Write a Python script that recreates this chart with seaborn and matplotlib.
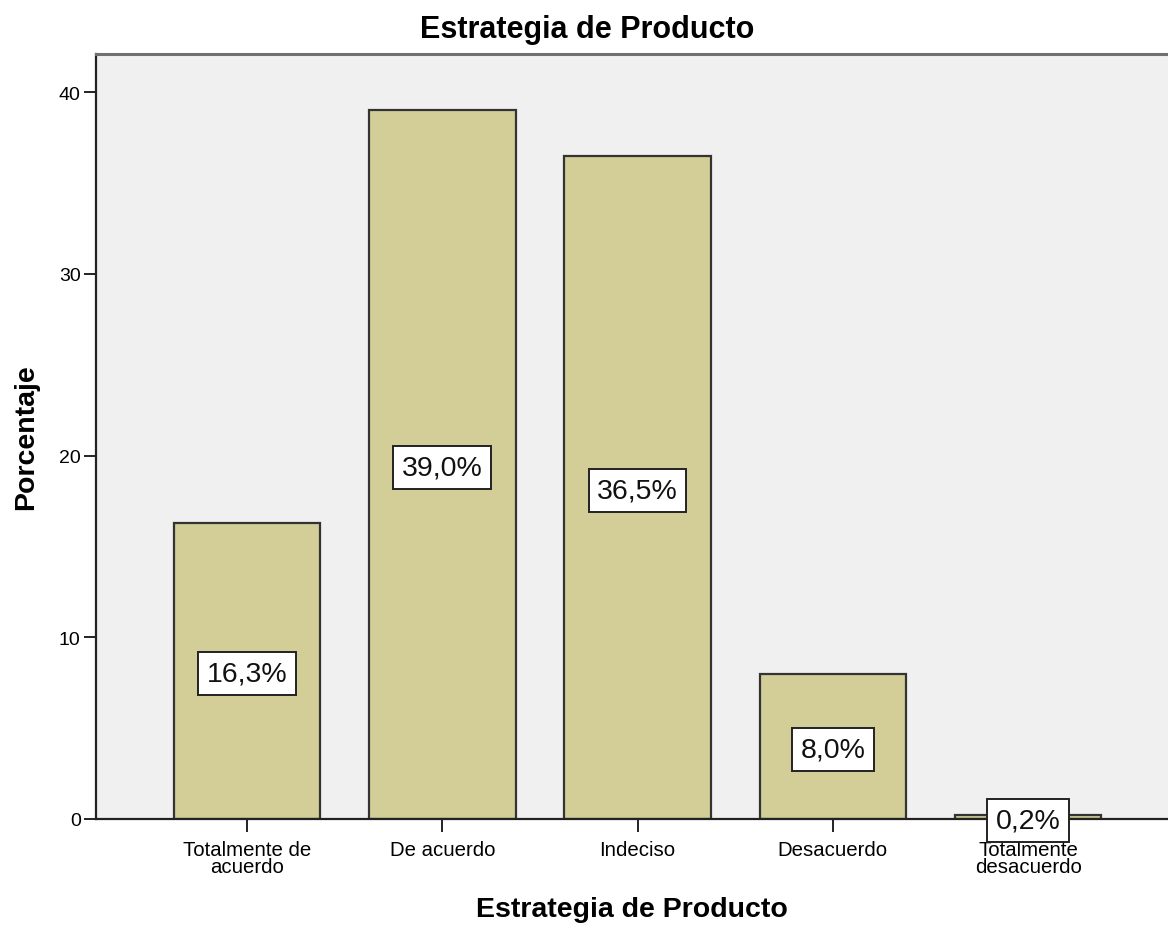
import matplotlib
matplotlib.use("Agg")
import matplotlib.pyplot as plt
import seaborn as sns
import pandas as pd

# Survey responses: share of answers per category
categories = ["Totalmente de\nacuerdo", "De acuerdo", "Indeciso", "Desacuerdo", "Totalmente\ndesacuerdo"]
percentages = [16.3, 39.0, 36.5, 8.0, 0.2]
value_labels = ["16,3%", "39,0%", "36,5%", "8,0%", "0,2%"]

sns.set_theme(style="white")
plt.rcParams["font.family"] = ["Liberation Sans", "DejaVu Sans"]
plt.rcParams["text.color"] = "black"
plt.rcParams["axes.labelcolor"] = "black"
plt.rcParams["xtick.color"] = "black"
plt.rcParams["ytick.color"] = "black"

df = pd.DataFrame({"categoria": categories, "porcentaje": percentages})

fig = plt.figure(figsize=(11.68, 9.29), dpi=100)
ax = fig.add_axes([96 / 1168, 1 - 820 / 929, 1 - 96 / 1168, (820 - 55) / 929])
ax.set_facecolor("#F0F0F0")

sns.barplot(data=df, x="categoria", y="porcentaje", color="#D3CE97", saturation=1,
            width=0.75, edgecolor="#333333", linewidth=1.6, ax=ax, zorder=2)

# Value boxes centred at half the bar height
for i, (v, lab) in enumerate(zip(percentages, value_labels)):
    ax.text(i, v / 2, lab, ha="center", va="center_baseline", fontsize=20.5, color="#111111", zorder=5,
            bbox=dict(boxstyle="square,pad=0.3", facecolor="white", edgecolor="#222222", linewidth=1.4))

ax.set_xlim(-0.773, 4.716)
ax.set_ylim(0, 42.1)
ax.set_yticks([0, 10, 20, 30, 40])
ax.tick_params(axis="y", labelsize=14, length=9, width=1.4, color="#222222", left=True, pad=2)
ax.tick_params(axis="x", labelsize=14.7, length=9, width=1.4, color="#222222", bottom=True, pad=6)
for t in ax.get_xticklabels():
    t.set_linespacing(0.85)

for side in ["left", "bottom"]:
    ax.spines[side].set_color("#222222")
    ax.spines[side].set_linewidth(1.6)
ax.spines["top"].set_color("#707070")
ax.spines["top"].set_linewidth(2.2)
ax.spines["right"].set_visible(False)

ax.set_xlabel("Estrategia de Producto", fontsize=20.5, fontweight="bold", labelpad=15)
ax.set_ylabel("Porcentaje", fontsize=20.5, fontweight="bold", labelpad=14)
fig.text(587 / 1168, 1 - 30 / 929, "Estrategia de Producto", ha="center", va="center",
         fontsize=22, fontweight="bold")

fig.savefig("out.png", dpi=100)
